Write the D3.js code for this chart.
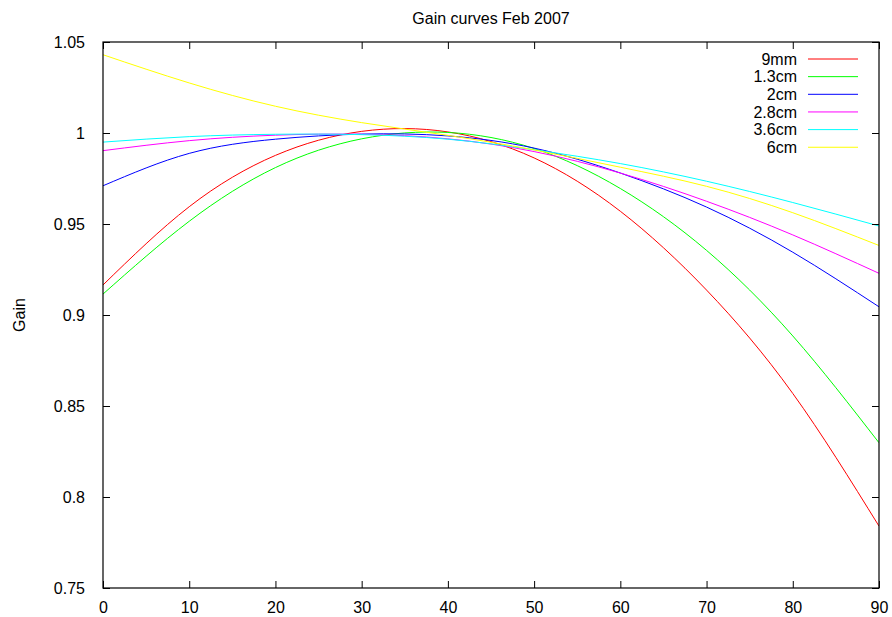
<!DOCTYPE html>
<html>
<head>
<meta charset="utf-8">
<script src="https://cdn.jsdelivr.net/npm/d3@7"></script>
<style>
  body { margin: 0; background: #fff; }
  svg { display: block; }
  text { font-family: "Liberation Sans", Arial, Helvetica, sans-serif; font-size: 16px; fill: #000; }
</style>
</head>
<body>
<svg id="chart" width="892" height="617"></svg>
<script>
var angles = [0, 10, 20, 30, 40, 50, 60, 70, 80, 90];

var gain9mm  = [0.9165, 0.9595, 0.9877, 1.0009, 1.0006, 0.9863, 0.9570, 0.9137, 0.8569, 0.7840];
var gain13cm = [0.9115, 0.9515, 0.9810, 0.9968, 1.0003, 0.9915, 0.9695, 0.9355, 0.8885, 0.8298];
var gain2cm  = [0.9710, 0.9888, 0.9966, 0.9994, 0.9984, 0.9917, 0.9780, 0.9593, 0.9345, 0.9045];
var gain28cm = [0.9903, 0.9958, 0.9988, 0.9993, 0.9968, 0.9898, 0.9780, 0.9625, 0.9440, 0.9229];
var gain36cm = [0.9950, 0.9980, 0.9993, 0.9991, 0.9966, 0.9908, 0.9832, 0.9735, 0.9618, 0.9489];
var gain6cm  = [1.0430, 1.0275, 1.0147, 1.0057, 0.9987, 0.9907, 0.9812, 0.9707, 0.9562, 0.9382];

var seriesNames = ["9mm", "1.3cm", "2cm", "2.8cm", "3.6cm", "6cm"];
var seriesValues = [gain9mm, gain13cm, gain2cm, gain28cm, gain36cm, gain6cm];
var seriesColors = ["#ff0000", "#00ff00", "#0000ff", "#ff00ff", "#00ffff", "#ffff00"];

var xTicks = [0, 10, 20, 30, 40, 50, 60, 70, 80, 90];
var yTicks = [0.75, 0.8, 0.85, 0.9, 0.95, 1, 1.05];

(function () {
  var plotLeft = 103, plotRight = 879, plotTop = 42, plotBottom = 588;
  var tickLen = 7;

  var svg = d3.select("#chart");

  var x = d3.scaleLinear().domain([0, 90]).range([plotLeft, plotRight]);
  var y = d3.scaleLinear().domain([0.75, 1.05]).range([plotBottom, plotTop]);

  // curves, clipped to the frame
  svg.append("clipPath").attr("id", "plotClip")
    .append("rect")
    .attr("x", plotLeft).attr("y", plotTop)
    .attr("width", plotRight - plotLeft).attr("height", plotBottom - plotTop);

  var line = d3.line()
    .x(function (d) { return x(d[0]); })
    .y(function (d) { return y(d[1]); })
    .curve(d3.curveNatural);

  svg.append("g")
    .attr("clip-path", "url(#plotClip)")
    .selectAll("path")
    .data(seriesValues)
    .enter().append("path")
    .attr("d", function (vals) { return line(vals.map(function (v, i) { return [angles[i], v]; })); })
    .attr("fill", "none")
    .attr("stroke", function (d, i) { return seriesColors[i]; })
    .attr("stroke-width", 1);

  // axes with inward ticks on all four sides
  var fmt = function (d) { return String(+d.toFixed(2)); };

  svg.append("g")
    .attr("transform", "translate(0," + plotBottom + ")")
    .call(d3.axisBottom(x).tickValues(xTicks).tickSizeInner(-tickLen).tickSizeOuter(0).tickPadding(14))
    .call(function (g) { g.select(".domain").remove(); });

  svg.append("g")
    .attr("transform", "translate(0," + plotTop + ")")
    .call(d3.axisTop(x).tickValues(xTicks).tickSizeInner(-tickLen).tickSizeOuter(0).tickFormat(""))
    .call(function (g) { g.select(".domain").remove(); });

  svg.append("g")
    .attr("transform", "translate(" + plotLeft + ",0)")
    .call(d3.axisLeft(y).tickValues(yTicks).tickSizeInner(-tickLen).tickSizeOuter(0).tickPadding(18).tickFormat(fmt))
    .call(function (g) { g.select(".domain").remove(); });

  svg.append("g")
    .attr("transform", "translate(" + plotRight + ",0)")
    .call(d3.axisRight(y).tickValues(yTicks).tickSizeInner(-tickLen).tickSizeOuter(0).tickFormat(""))
    .call(function (g) { g.select(".domain").remove(); });

  svg.selectAll(".tick line").attr("stroke", "#000");
  svg.selectAll(".tick text").style("font-size", "16px")
    .attr("font-family", "Liberation Sans, Arial, sans-serif");

  // frame
  svg.append("rect")
    .attr("x", plotLeft).attr("y", plotTop)
    .attr("width", plotRight - plotLeft).attr("height", plotBottom - plotTop)
    .attr("fill", "none").attr("stroke", "#000").attr("stroke-width", 1.2);

  // title and axis label
  svg.append("text")
    .attr("x", (plotLeft + plotRight) / 2).attr("y", 24)
    .attr("text-anchor", "middle")
    .text("Gain curves Feb 2007");

  svg.append("text")
    .attr("transform", "translate(25," + ((plotTop + plotBottom) / 2) + ") rotate(-90)")
    .attr("text-anchor", "middle")
    .text("Gain");

  // legend
  var legend = svg.append("g").selectAll("g")
    .data(seriesNames)
    .enter().append("g")
    .attr("transform", function (d, i) { return "translate(0," + (59 + i * 17.65) + ")"; });

  legend.append("text")
    .attr("x", 797).attr("dy", "0.35em")
    .attr("text-anchor", "end")
    .text(function (d) { return d; });

  legend.append("line")
    .attr("x1", 808).attr("x2", 858)
    .attr("stroke", function (d, i) { return seriesColors[i]; })
    .attr("stroke-width", 1);
})();
</script>
</body>
</html>
